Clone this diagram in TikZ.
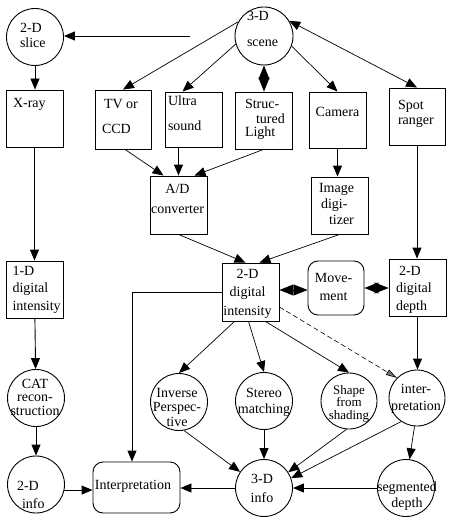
\documentclass[tikz,border=0pt]{standalone}
\usepackage{fontspec}
\setmainfont{Liberation Serif}
\usetikzlibrary{arrows.meta}
% dx, lift, baselineskip, rows -- centred rows
\newcommand\ctext[4]{\hbox to 0pt{\hss\kern#1\kern#1\raisebox{#2}[0pt][0pt]{\vtop{\baselineskip=#3\lineskiplimit=-100pt\lineskip=0pt\halign{\hfil##\hfil\cr#4\crcr}}}\hss}}
% dx (left edge), lift, baselineskip, rows -- left aligned rows
\newcommand\ltext[4]{\hbox to 0pt{\kern#1\raisebox{#2}[0pt][0pt]{\vtop{\baselineskip=#3\lineskiplimit=-100pt\lineskip=0pt\halign{##\hfil\cr#4\crcr}}}\hss}}
\begin{document}
\begin{tikzpicture}[x=1pt,y=-1pt,
  every node/.style={font=\fontsize{14}{16}\selectfont, inner sep=0pt},
  box/.style={draw, line width=0.9pt, minimum width=57pt, minimum height=57pt},
  rbox/.style={box, rounded corners=10pt},
  circ/.style={draw, circle, line width=0.9pt, minimum size=57pt},
  arr/.style={-{Triangle[length=11pt,width=9pt]}, line width=0.9pt},
  darr/.style={{Triangle[length=11pt,width=9pt]}-{Triangle[length=11pt,width=9pt]}, line width=0.7pt},
  diam/.style={{Triangle[length=14pt,width=11pt]}-{Triangle[length=14pt,width=11pt]}, line width=0.9pt},
  thinline/.style={line width=0.7pt},
  dasharr/.style={-{Triangle[length=11pt,width=6pt,fill=black!55]}, dash pattern=on 5pt off 3pt, line width=0.6pt},
]
\useasboundingbox (0,0) rectangle (452,524);
% circles
\node[circ] (slice) at (35,37) {\ltext{-15pt}{4pt}{15pt}{2-D\cr slice}};
\node[circ, minimum size=58pt] (scene) at (264,36) {\ltext{-17pt}{15pt}{26pt}{3-D\cr scene}};
\node[circ] (cat) at (36,398) {\ctext{-1pt}{10pt}{13.5pt}{CAT\cr recon-\cr struction}};
\node[circ] (info2) at (36,484.5) {\ltext{-19pt}{-5.5pt}{18pt}{2-D\cr\kern5pt info}};
\node[circ] (inv) at (179,402) {\ctext{-2pt}{5pt}{14.5pt}{Inverse\cr Perspec-\cr tive}};
\node[circ] (stereo) at (264,401) {\ctext{0pt}{4pt}{16pt}{Stereo\cr matching}};
\node[circ, minimum size=56pt, font=\fontsize{13}{15}\selectfont] (shape) at (349,401) {\ctext{0pt}{7pt}{12.5pt}{Shape\cr from\cr shading}};
\node[circ, minimum size=56pt] (ipc) at (417,398) {\ctext{-1pt}{5pt}{17pt}{inter-\cr pretation}};
\node[circ] (info3) at (264,488) {\ctext{-2pt}{5pt}{19pt}{3-D\cr info}};
\node[circ] (seg) at (406,488) {\ctext{1pt}{-3pt}{16pt}{segmented\cr depth}};
% boxes
\node[box] (xray) at (34.5,118.5) {\ltext{-21.5pt}{10.5pt}{16pt}{X-ray}};
\node[box, minimum width=56pt, minimum height=59pt] (tv) at (123,119.5) {\ltext{-21pt}{10.5pt}{24pt}{\kern2pt TV or\cr CCD}};
\node[box, minimum height=55pt] (us) at (193.5,119.5) {\ltext{-25.5pt}{13.5pt}{24pt}{Ultra\cr sound}};
\node[box] (sl) at (263.5,120.5) {\ltext{-18.5pt}{11.5pt}{14pt}{Struc-\cr\kern11pt tured\cr Light}};
\node[box, minimum height=56pt] (cam) at (337.5,120) {\ctext{0pt}{3pt}{16pt}{Camera}};
\node[box, minimum width=56pt] (spot) at (417,116.5) {\ltext{-19pt}{6.5pt}{15pt}{Spot\cr ranger}};
\node[box, minimum height=58pt] (ad) at (178.5,205) {\ctext{-1pt}{12pt}{20pt}{A/D\cr converter}};
\node[box] (imgd) at (339.5,205.5) {\ltext{-20.5pt}{13.5pt}{16pt}{Image\cr\kern2pt digi-\cr\kern10pt tizer}};
\node[box] (d1) at (34.5,289.5) {\ltext{-22pt}{14.5pt}{17.5pt}{1-D\cr digital\cr intensity}};
\node[box, minimum height=58pt] (d2) at (250.5,292) {\ctext{-3pt}{14pt}{18.5pt}{2-D\cr digital\cr intensity}};
\node[rbox, minimum width=56pt, minimum height=54pt] (mov) at (336,288) {\ctext{-2.5pt}{6pt}{18pt}{Move-\cr ment}};
\node[box] (dep) at (417.5,287.5) {\ltext{-21.5pt}{12.5pt}{17.5pt}{\kern3pt 2-D\cr digital\cr depth}};
\node[rbox, minimum width=87pt, minimum height=51pt] (ibox) at (136.5,487.5) {\ctext{-3.5pt}{-1.5pt}{16pt}{Interpretation}};
\coordinate (feed) at (190,36);
% connectors
\draw[arr] (feed) -- (feed -| slice.east);
\draw[arr] (slice.south) -- (slice.south |- xray.north);
\draw[arr] (xray) -- (d1);
\draw[arr] (d1) -- (cat);
\draw[arr] (cat) -- (info2);
\draw[arr] (info2.-11) -- (info2.-11 -| ibox.west);
\draw[arr] (info3.west) -- (info3.west -| ibox.east);
\draw[arr] (seg.west) -- (info3.east);
\draw[arr, thinline] (scene.151) -- (tv.north);
\draw[arr, thinline] (scene.196) -- ([xshift=-11pt]us.north);
\draw[diam] (scene.south) -- (scene.south |- sl.north);
\draw[arr, thinline] (scene.-20) -- (cam.north);
\draw[darr] (scene.31) -- (spot.north);
\draw[arr, thinline] ([xshift=2pt]tv.south) -- ([xshift=-15pt]ad.north);
\draw[arr] (ad.north |- us.south) -- (ad.north);
\draw[arr, thinline] (sl.south) -- ([xshift=16pt]ad.north);
\draw[arr] (cam.south) -- (cam.south |- imgd.north);
\draw[arr, thinline] (ad.south) -- ([xshift=-5pt]d2.north);
\draw[arr, thinline] (imgd.south) -- ([xshift=9pt]d2.north);
\draw[arr] (spot.south) -- (spot.south |- dep.north);
\draw[diam] ([yshift=2pt]d2.east) -- ([yshift=2pt]d2.east -| mov.west);
\draw[diam] (mov.east) -- (mov.east -| dep.west);
\draw[arr] (d2.west) -| ([xshift=-4.5pt]ibox.north);
\draw[arr, thinline] ([xshift=-16pt]d2.south) -- (inv.north);
\draw[arr, thinline] ([xshift=-2pt]d2.south) -- (stereo.north);
\draw[arr, thinline] ([xshift=15pt]d2.south) -- (shape.north);
\draw[dasharr] ([yshift=-15pt]d2.east) -- (ipc.135);
\draw[arr] (dep.south) -- (dep.south |- ipc.north);
\draw[arr, thinline] (inv.-80) -- (info3.146);
\draw[arr] (stereo.south) -- (info3.north);
\draw[arr, thinline] (shape.-95) -- (info3.33);
\draw[arr, thinline] (ipc.236) -- (info3.20);
\draw[arr, thinline] (ipc.-95) -- (seg.83);
\end{tikzpicture}
\end{document}
